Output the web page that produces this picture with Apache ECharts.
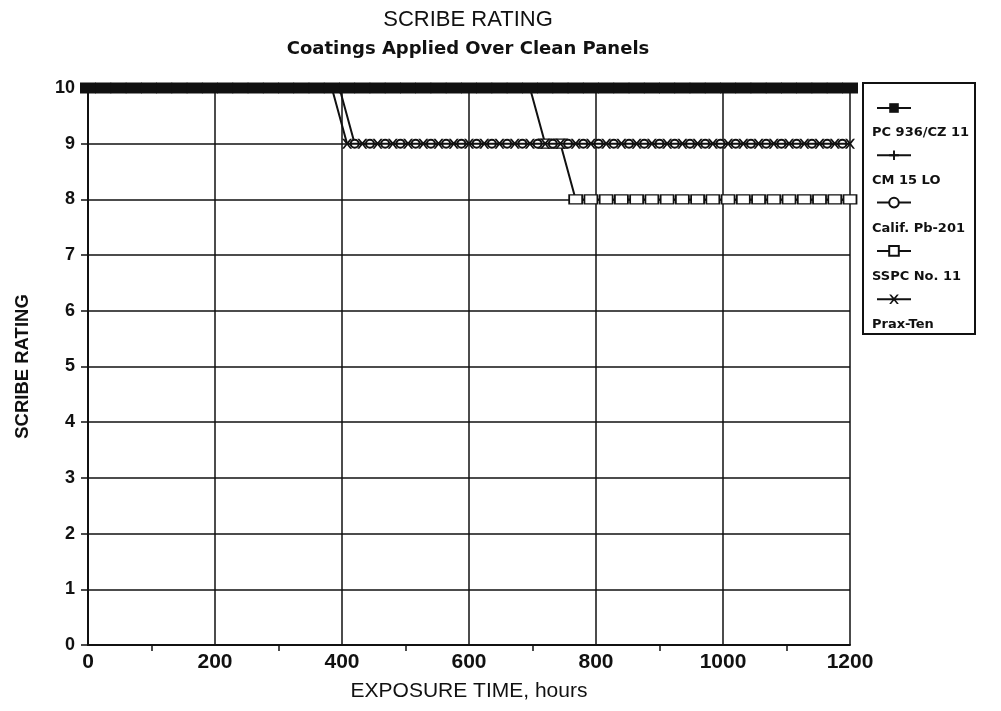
<!DOCTYPE html>
<html lang="en">
  <head>
    <meta charset="UTF-8" />
    <title>Scribe Rating</title>
    <script src="https://cdn.jsdelivr.net/npm/echarts@6/dist/echarts.min.js"></script>
    <style>
      html, body { margin: 0; padding: 0; background: #fff; }
      #chart { width: 1001px; height: 711px; }
    </style>
  </head>
  <body>
    <div id="chart"></div>
    <script>
      // sample times (hours), one reading a day, and a half-day shifted set
      const hours = [0, 24, 48, 72, 96, 120, 144, 168, 192, 216, 240, 264, 288, 312, 336, 360, 384,
        408, 432, 456, 480, 504, 528, 552, 576, 600, 624, 648, 672, 696, 720, 744, 768, 792, 816,
        840, 864, 888, 912, 936, 960, 984, 1008, 1032, 1056, 1080, 1104, 1128, 1152, 1176, 1200]
      const hoursOffset = [12, 36, 60, 84, 108, 132, 156, 180, 204, 228, 252, 276, 300, 324, 348,
        372, 396, 420, 444, 468, 492, 516, 540, 564, 588, 612, 636, 660, 684, 708, 732, 756, 780,
        804, 828, 852, 876, 900, 924, 948, 972, 996, 1020, 1044, 1068, 1092, 1116, 1140, 1164, 1188]

      const pc936 = [10, 10, 10, 10, 10, 10, 10, 10, 10, 10, 10, 10, 10, 10, 10, 10, 10,
        10, 10, 10, 10, 10, 10, 10, 10, 10, 10, 10, 10, 10, 10, 10, 10, 10, 10,
        10, 10, 10, 10, 10, 10, 10, 10, 10, 10, 10, 10, 10, 10, 10, 10]
      const cm15 = [10, 10, 10, 10, 10, 10, 10, 10, 10, 10, 10, 10, 10, 10, 10, 10, 10,
        10, 10, 10, 10, 10, 10, 10, 10, 10, 10, 10, 10, 10, 10, 10, 10, 10, 10,
        10, 10, 10, 10, 10, 10, 10, 10, 10, 10, 10, 10, 10, 10, 10, 10]
      // on hoursOffset
      const calif = [10, 10, 10, 10, 10, 10, 10, 10, 10, 10, 10, 10, 10, 10, 10, 10, 10,
        9, 9, 9, 9, 9, 9, 9, 9, 9, 9, 9, 9, 9, 9, 9, 9, 9, 9, 9, 9, 9, 9, 9, 9, 9, 9, 9, 9,
        9, 9, 9, 9, 9]
      const sspc = [10, 10, 10, 10, 10, 10, 10, 10, 10, 10, 10, 10, 10, 10, 10, 10, 10,
        10, 10, 10, 10, 10, 10, 10, 10, 10, 10, 10, 10, 10, 9, 9, 8, 8, 8,
        8, 8, 8, 8, 8, 8, 8, 8, 8, 8, 8, 8, 8, 8, 8, 8]
      const praxTen = [10, 10, 10, 10, 10, 10, 10, 10, 10, 10, 10, 10, 10, 10, 10, 10, 10,
        9, 9, 9, 9, 9, 9, 9, 9, 9, 9, 9, 9, 9, 9, 9, 9, 9, 9,
        9, 9, 9, 9, 9, 9, 9, 9, 9, 9, 9, 9, 9, 9, 9, 9]

      const seriesNames = ['PC 936/CZ 11', 'CM 15 LO', 'Calif. Pb-201', 'SSPC No. 11', 'Prax-Ten']
      const xTicks = [0, 200, 400, 600, 800, 1000, 1200]

      const pair = (xs, ys) => xs.map((x, i) => [x, ys[i]])

      const plusPath = 'path://M4,0L6,0L6,4L10,4L10,6L6,6L6,10L4,10L4,6L0,6L0,4L4,4Z'
      const xPath = 'path://M0,0L2,0L5,3.6L8,0L10,0L6.2,5L10,10L8,10L5,6.4L2,10L0,10L3.8,5Z'

      const font = '"Liberation Sans", Arial, Helvetica, sans-serif'
      const wide = '"DejaVu Sans", Verdana, sans-serif'
      const chart = echarts.init(document.getElementById('chart'))

      const base = {
        type: 'line',
        color: '#111',
        lineStyle: { color: '#111', width: 2 },
        showAllSymbol: true,
        animation: false
      }

      chart.setOption({
        backgroundColor: '#fff',
        title: [
          {
            text: 'SCRIBE RATING',
            left: 463, top: 4, textAlign: 'center',
            textStyle: { fontFamily: font, fontSize: 22, fontWeight: 'normal', color: '#111' }
          },
          {
            text: 'Coatings Applied Over Clean Panels',
            left: 463, top: 35, textAlign: 'center',
            textStyle: { fontFamily: wide, fontSize: 18, fontWeight: 'bold', color: '#111' }
          }
        ],
        // icon column and text column of the legend, stacked like the original
        legend: [
          {
            data: seriesNames,
            orient: 'vertical',
            left: 871, top: 97,
            itemWidth: 34, itemHeight: 12, itemGap: 36.5,
            formatter: () => '',
            inactiveColor: '#bbb'
          },
          {
            data: seriesNames,
            orient: 'vertical',
            left: 862, top: 120,
            itemWidth: 0, itemHeight: 15, itemGap: 33,
            icon: 'rect',
            itemStyle: { opacity: 0, borderWidth: 0 },
            lineStyle: { opacity: 0 },
            textStyle: { fontFamily: wide, fontSize: 13, fontWeight: 'bold', color: '#111' }
          }
        ],
        graphic: [
          {
            type: 'rect',
            shape: { x: 863, y: 83, width: 112, height: 251 },
            style: { fill: 'none', stroke: '#111', lineWidth: 2 }
          }
        ],
        grid: { left: 88, right: 151, top: 88, bottom: 66 },
        xAxis: {
          type: 'value',
          min: 0, max: 1200, interval: 200,
          name: 'EXPOSURE TIME, hours',
          nameLocation: 'middle', nameGap: 36,
          nameTextStyle: { fontFamily: font, fontSize: 21, color: '#111' },
          axisLine: { show: true, lineStyle: { color: '#111', width: 2 } },
          axisTick: { show: false },
          minorTick: { show: true, splitNumber: 2, length: 6, lineStyle: { color: '#111', width: 1.5 } },
          axisLabel: {
            margin: 7,
            fontFamily: font, fontSize: 21, fontWeight: 'bold', color: '#111',
            formatter: v => (xTicks.includes(v) ? String(v) : '')
          },
          splitLine: { show: true, lineStyle: { color: '#111', width: 1.5 } }
        },
        yAxis: {
          type: 'value',
          min: 0, max: 10, interval: 1,
          name: 'SCRIBE RATING',
          nameLocation: 'middle', nameGap: 56,
          nameTextStyle: { fontFamily: font, fontSize: 18.5, fontWeight: 'bold', color: '#111' },
          axisLine: { show: true, lineStyle: { color: '#111', width: 2 } },
          axisTick: { show: true, length: 7, lineStyle: { color: '#111', width: 1.5 } },
          axisLabel: { margin: 13, fontFamily: font, fontSize: 18, fontWeight: 'bold', color: '#111' },
          splitLine: { show: true, lineStyle: { color: '#111', width: 1.5 } }
        },
        series: [
          Object.assign({}, base, {
            name: 'SSPC No. 11', z: 3,
            data: pair(hours, sspc),
            symbol: 'rect', symbolSize: [13, 9],
            itemStyle: { color: '#fff', borderColor: '#111', borderWidth: 1.5 }
          }),
          Object.assign({}, base, {
            name: 'Calif. Pb-201', z: 3,
            data: pair(hoursOffset, calif),
            symbol: 'emptyCircle', symbolSize: 8,
            itemStyle: { color: '#111', borderWidth: 1.5 }
          }),
          Object.assign({}, base, {
            name: 'Prax-Ten', z: 4,
            data: pair(hours, praxTen),
            symbol: xPath, symbolSize: 10,
            itemStyle: { color: '#111' }
          }),
          Object.assign({}, base, {
            name: 'CM 15 LO', z: 5,
            data: pair(hours, cm15),
            symbol: plusPath, symbolSize: 10,
            itemStyle: { color: '#111' }
          }),
          Object.assign({}, base, {
            name: 'PC 936/CZ 11', z: 6,
            data: pair(hours, pc936),
            symbol: 'rect', symbolSize: [16, 11],
            lineStyle: { color: '#111', width: 4 },
            itemStyle: { color: '#111' }
          })
        ]
      })
    </script>
  </body>
</html>
